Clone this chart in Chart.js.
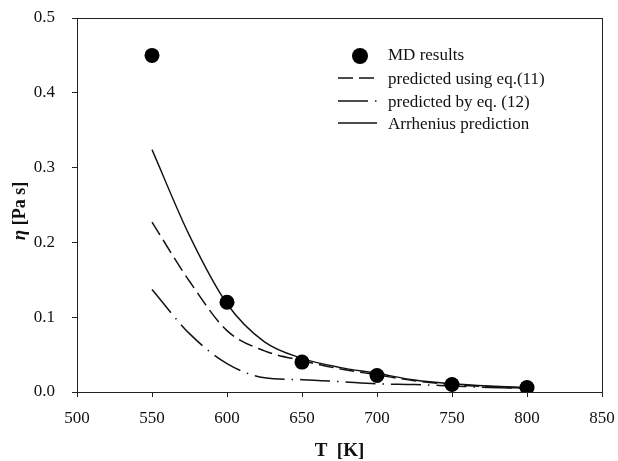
<!DOCTYPE html>
<html lang="en">
<head>
  <meta charset="UTF-8">
  <title>Viscosity vs temperature</title>
  <script src="https://cdn.jsdelivr.net/npm/chart.js"></script>
  <style>
    body {
      margin: 0;
      background: #fff;
    }
    #wrap {
      width: 618px;
      height: 461px;
    }
  </style>
</head>
<body>
  <div id="wrap"><canvas id="etaChart" width="618" height="461"></canvas></div>

  <script>
    // temperatures of the MD runs [K]
    const mdTemps = [550, 600, 650, 700, 750, 800];
    const mdEta = [0.45, 0.12, 0.040, 0.022, 0.010, 0.006];

    // temperatures where the predictions are sampled [K]
    const predTemps = [550, 575, 600, 625, 650, 675, 700, 725, 750, 775, 800];
    const eq11Eta = [0.227, 0.148, 0.082, 0.055, 0.042, 0.031, 0.023, 0.015, 0.010, 0.007, 0.005];
    const eq12Eta = [0.137, 0.078, 0.038, 0.019, 0.0165, 0.014, 0.011, 0.010, 0.008, 0.006, 0.005];
    const arrheniusEta = [0.324, 0.209, 0.118, 0.067, 0.045, 0.033, 0.025, 0.016, 0.011, 0.008, 0.006];

    const xTicks = [500, 550, 600, 650, 700, 750, 800, 850];
    const yTicks = [0.0, 0.1, 0.2, 0.3, 0.4, 0.5];

    const serif = "'Liberation Serif', 'Times New Roman', serif";
    const ink = '#111';

    function pairs(xs, ys) {
      return xs.map((x, i) => ({ x: x, y: ys[i] }));
    }

    // frame, axis titles and the legend block
    const decorations = {
      id: 'decorations',
      afterDraw(chart) {
        const ctx = chart.ctx;
        const a = chart.chartArea;
        ctx.save();

        ctx.strokeStyle = '#222';
        ctx.lineWidth = 1;
        ctx.strokeRect(a.left + 0.5, a.top + 0.5, a.right - a.left, a.bottom - a.top);

        ctx.fillStyle = ink;
        ctx.textBaseline = 'middle';

        // x title
        ctx.font = 'bold 19px ' + serif;
        ctx.textAlign = 'center';
        ctx.fillText('T  [K]', (a.left + a.right) / 2, 451);

        // y title, greek letter in italic
        ctx.save();
        ctx.translate(20, 211);
        ctx.rotate(-Math.PI / 2);
        ctx.textAlign = 'left';
        ctx.font = 'italic bold 19px ' + serif;
        const eta = 'η';
        const rest = ' [Pa s]';
        const w1 = ctx.measureText(eta).width;
        ctx.font = 'bold 18px ' + serif;
        const w2 = ctx.measureText(rest).width;
        const x0 = -(w1 + w2) / 2;
        ctx.font = 'italic bold 19px ' + serif;
        ctx.fillText(eta, x0, 0);
        ctx.font = 'bold 18px ' + serif;
        ctx.fillText(rest, x0 + w1, 0);
        ctx.restore();

        // legend
        const rowsY = [56, 80, 103, 125];
        const lineX0 = 338, lineX1 = 377, textX = 388;
        ctx.font = '17px ' + serif;
        ctx.textAlign = 'left';
        chart.data.datasets.forEach((ds, i) => {
          const y = rowsY[i];
          if (ds.showLine === false) {
            ctx.beginPath();
            ctx.fillStyle = ds.pointBackgroundColor;
            ctx.arc(360, y, 8, 0, Math.PI * 2);
            ctx.fill();
          } else {
            ctx.beginPath();
            ctx.strokeStyle = ds.borderColor;
            ctx.lineWidth = ds.borderWidth;
            ctx.setLineDash(ds.borderDash || []);
            ctx.moveTo(lineX0, y - 2);
            ctx.lineTo(lineX1, y - 2);
            ctx.stroke();
            ctx.setLineDash([]);
          }
          ctx.fillStyle = ink;
          ctx.fillText(ds.label, textX, y);
        });

        ctx.restore();
      }
    };

    new Chart(document.getElementById('etaChart'), {
      type: 'line',
      data: {
        datasets: [
          {
            label: 'MD results',
            data: pairs(mdTemps, mdEta),
            showLine: false,
            pointRadius: 7.5,
            pointBackgroundColor: '#000',
            pointBorderWidth: 0,
            order: 0
          },
          {
            label: 'predicted using eq.(11)',
            data: pairs(predTemps, eq11Eta),
            borderColor: ink,
            borderWidth: 1.5,
            borderDash: [15, 6],
            pointRadius: 0,
            cubicInterpolationMode: 'monotone',
            order: 1
          },
          {
            label: 'predicted by eq. (12)',
            data: pairs(predTemps, eq12Eta),
            borderColor: ink,
            borderWidth: 1.5,
            borderDash: [30, 7, 1.5, 7],
            pointRadius: 0,
            cubicInterpolationMode: 'monotone',
            order: 1
          },
          {
            label: 'Arrhenius prediction',
            data: pairs(predTemps, arrheniusEta),
            borderColor: ink,
            borderWidth: 1.4,
            pointRadius: 0,
            cubicInterpolationMode: 'monotone',
            order: 1
          }
        ]
      },
      options: {
        responsive: false,
        animation: false,
        layout: { padding: { left: 0, right: 16, top: 18, bottom: 0 } },
        plugins: {
          legend: { display: false },
          tooltip: { enabled: false }
        },
        scales: {
          x: {
            type: 'linear',
            min: xTicks[0],
            max: xTicks[xTicks.length - 1],
            afterFit: s => {
              s.height = 69;
              s.paddingLeft = 0;
              s.paddingRight = 0;
            },
            afterBuildTicks: s => { s.ticks = xTicks.map(v => ({ value: v })); },
            border: { display: true, color: '#222', width: 1 },
            grid: { drawOnChartArea: false, drawTicks: true, tickLength: 5, color: '#222' },
            ticks: {
              color: ink,
              padding: 11,
              maxRotation: 0,
              font: { family: serif, size: 17 },
              callback: v => String(v)
            }
          },
          y: {
            type: 'linear',
            min: yTicks[0],
            max: yTicks[yTicks.length - 1],
            afterFit: s => {
              s.width = 77;
              s.paddingTop = 0;
              s.paddingBottom = 0;
            },
            afterBuildTicks: s => { s.ticks = yTicks.map(v => ({ value: v })); },
            border: { display: true, color: '#222', width: 1 },
            grid: { drawOnChartArea: false, drawTicks: true, tickLength: 5, color: '#222' },
            ticks: {
              color: ink,
              padding: 17,
              font: { family: serif, size: 17 },
              callback: v => Number(v).toFixed(1)
            }
          }
        }
      },
      plugins: [decorations]
    });
  </script>
</body>
</html>
